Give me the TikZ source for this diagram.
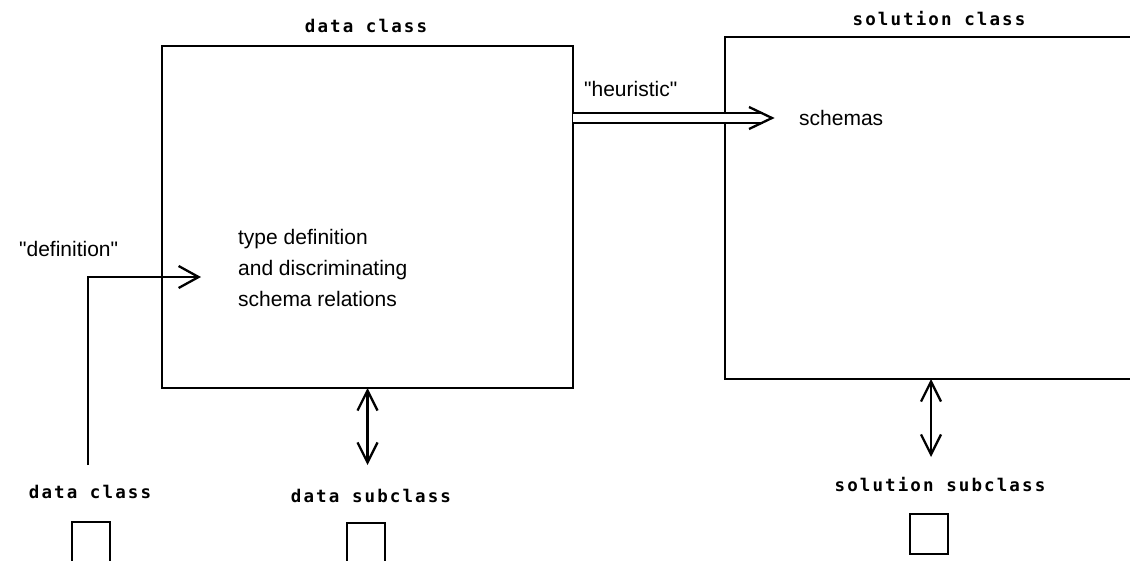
\documentclass[tikz,border=0pt]{standalone}
\usepackage{fontspec}
\setmainfont{Liberation Sans}[Ligatures=TeXOff]
\newfontfamily\monofont{DejaVu Sans Mono}[LetterSpace=12]
\usetikzlibrary{arrows.meta}
\begin{document}
\begin{tikzpicture}[x=1pt,y=-1pt,line width=2.3pt,
  sanslbl/.style={inner sep=0pt, font=\fontsize{21}{25}\selectfont, anchor=base west},
  monolbl/.style={inner sep=0pt, font={\monofont\bfseries\fontsize{17.5}{20}\selectfont}, anchor=base},
  smallbox/.style={draw, minimum width=38pt, minimum height=40pt, inner sep=0pt, outer sep=0pt, anchor=north west},
  bigbox/.style={draw, inner sep=0pt, outer sep=0pt, anchor=north west},
  barb/.style={-{Straight Barb[length=20pt,width=22pt]}},
  dbarb/.style={{Straight Barb[length=20pt,width=20pt]}-{Straight Barb[length=20pt,width=20pt]}},
]
\fill[white] (0,0) rectangle (1130,560);
\useasboundingbox (0,0) rectangle (1130,560);

% data class box
\node[bigbox, minimum width=411pt, minimum height=342pt] (data) at (162,46) {};
\node[monolbl] (dtitle) at (366,32) {data class};

% solution class box (open to the right)
\coordinate (stl) at (725,37);
\coordinate (sbl) at (725,379);
\draw (1140,37) -- (stl) -- (sbl) -- (1140,379);
\node[monolbl] (stitle) at (939,25) {solution class};

% texts inside
\node[sanslbl] (t1) at (237,244) {type definition};
\node[sanslbl] (t2) at (237,275) {and discriminating};
\node[sanslbl] (t3) at (237,306) {schema relations};
\node[sanslbl] (schemas) at (798,125) {schemas};
\node[sanslbl] (heur) at (583,96) {"heuristic"};
\node[sanslbl] (defn) at (18,256) {"definition"};

% heuristic double arrow
\coordinate (hend) at (763,118);
\draw[double, double distance=7.5pt] (data.east |- hend) -- (hend);
\draw ([shift={(-14,-11)}]hend) -- ([shift={(9,0)}]hend) -- ([shift={(-14,11)}]hend);

% bottom labels and squares
\node[monolbl] (dcl) at (90,498) {data class};
\node[monolbl] (dsub) at (371,502) {data subclass};
\node[monolbl] (ssub) at (940,491) {solution subclass};
\node[smallbox] (sq1) at (72,522) {};
\node[smallbox] (sq2) at (347,523) {};
\node[smallbox] (sq3) at (910,514) {};

% definition arrow
\coordinate (dstart) at (88,465);
\coordinate (dend) at (201,277);
\draw[barb] (dstart) |- (dend);

% double-headed arrows
\coordinate (dsubtop) at (367.5,465);
\draw[dbarb] (data.south) -- (dsubtop);
\coordinate (ssubtop) at (931,457);
\draw[dbarb] (sbl -| ssubtop) -- (ssubtop);
\end{tikzpicture}
\end{document}
